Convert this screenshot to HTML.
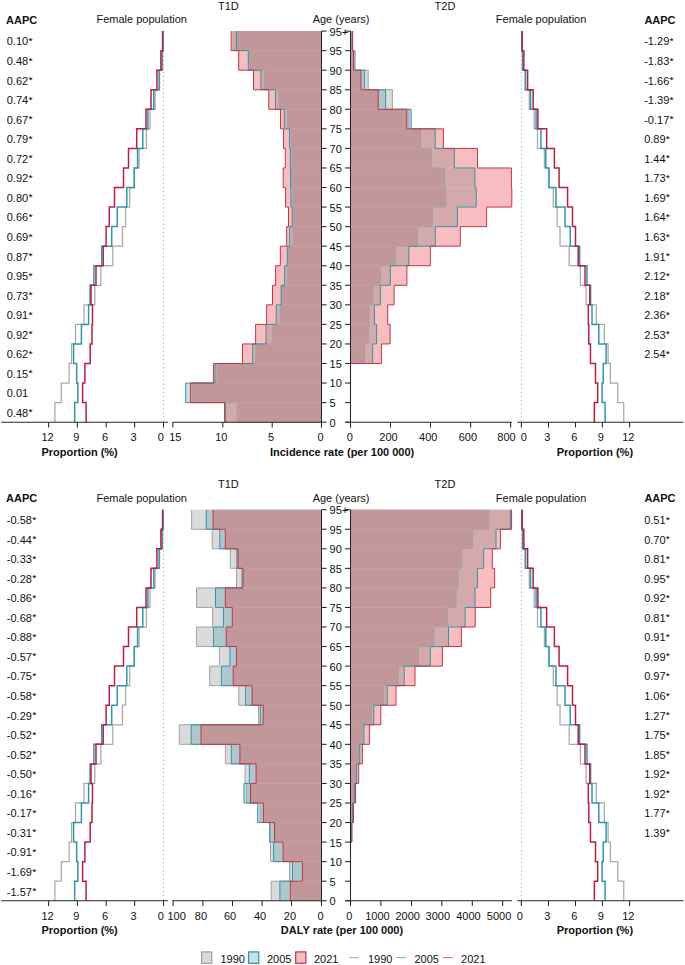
<!DOCTYPE html>
<html><head><meta charset="utf-8"><style>
html,body{margin:0;padding:0;background:#fff;width:685px;height:965px;overflow:hidden}
svg{display:block}
text{font-family:"Liberation Sans",sans-serif;fill:#111}
</style></head><body>
<svg width="685" height="965" viewBox="0 0 685 965">
<rect width="685" height="965" fill="#fff"/>
<text x="6" y="23.8" font-weight="bold" font-size="11.0">AAPC</text>
<text x="141.7" y="22.9" text-anchor="middle" font-size="11.0">Female population</text>
<text x="228.4" y="9.5" text-anchor="middle" font-size="11.0">T1D</text>
<text x="341.1" y="22.9" text-anchor="middle" font-size="11.0">Age (years)</text>
<text x="445" y="9.5" text-anchor="middle" font-size="11.0">T2D</text>
<text x="541.1" y="22.9" text-anchor="middle" font-size="11.0">Female population</text>
<text x="644.4" y="23.8" font-weight="bold" font-size="11.0">AAPC</text>
<text x="6.8" y="45.47" font-size="11.0">0.10<tspan font-size="9.4" dx="0.5" dy="-1.5" stroke="#111" stroke-width="0.12">*</tspan></text>
<text x="644.2" y="45.47" font-size="11.0">-1.29<tspan font-size="9.4" dx="0.5" dy="-1.5" stroke="#111" stroke-width="0.12">*</tspan></text>
<text x="6.8" y="65.02" font-size="11.0">0.48<tspan font-size="9.4" dx="0.5" dy="-1.5" stroke="#111" stroke-width="0.12">*</tspan></text>
<text x="644.2" y="65.02" font-size="11.0">-1.83<tspan font-size="9.4" dx="0.5" dy="-1.5" stroke="#111" stroke-width="0.12">*</tspan></text>
<text x="6.8" y="84.57" font-size="11.0">0.62<tspan font-size="9.4" dx="0.5" dy="-1.5" stroke="#111" stroke-width="0.12">*</tspan></text>
<text x="644.2" y="84.57" font-size="11.0">-1.66<tspan font-size="9.4" dx="0.5" dy="-1.5" stroke="#111" stroke-width="0.12">*</tspan></text>
<text x="6.8" y="104.13" font-size="11.0">0.74<tspan font-size="9.4" dx="0.5" dy="-1.5" stroke="#111" stroke-width="0.12">*</tspan></text>
<text x="644.2" y="104.13" font-size="11.0">-1.39<tspan font-size="9.4" dx="0.5" dy="-1.5" stroke="#111" stroke-width="0.12">*</tspan></text>
<text x="6.8" y="123.68" font-size="11.0">0.67<tspan font-size="9.4" dx="0.5" dy="-1.5" stroke="#111" stroke-width="0.12">*</tspan></text>
<text x="644.2" y="123.68" font-size="11.0">-0.17<tspan font-size="9.4" dx="0.5" dy="-1.5" stroke="#111" stroke-width="0.12">*</tspan></text>
<text x="6.8" y="143.23" font-size="11.0">0.79<tspan font-size="9.4" dx="0.5" dy="-1.5" stroke="#111" stroke-width="0.12">*</tspan></text>
<text x="644.2" y="143.23" font-size="11.0">0.89<tspan font-size="9.4" dx="0.5" dy="-1.5" stroke="#111" stroke-width="0.12">*</tspan></text>
<text x="6.8" y="162.78" font-size="11.0">0.72<tspan font-size="9.4" dx="0.5" dy="-1.5" stroke="#111" stroke-width="0.12">*</tspan></text>
<text x="644.2" y="162.78" font-size="11.0">1.44<tspan font-size="9.4" dx="0.5" dy="-1.5" stroke="#111" stroke-width="0.12">*</tspan></text>
<text x="6.8" y="182.34" font-size="11.0">0.92<tspan font-size="9.4" dx="0.5" dy="-1.5" stroke="#111" stroke-width="0.12">*</tspan></text>
<text x="644.2" y="182.34" font-size="11.0">1.73<tspan font-size="9.4" dx="0.5" dy="-1.5" stroke="#111" stroke-width="0.12">*</tspan></text>
<text x="6.8" y="201.89" font-size="11.0">0.80<tspan font-size="9.4" dx="0.5" dy="-1.5" stroke="#111" stroke-width="0.12">*</tspan></text>
<text x="644.2" y="201.89" font-size="11.0">1.69<tspan font-size="9.4" dx="0.5" dy="-1.5" stroke="#111" stroke-width="0.12">*</tspan></text>
<text x="6.8" y="221.44" font-size="11.0">0.66<tspan font-size="9.4" dx="0.5" dy="-1.5" stroke="#111" stroke-width="0.12">*</tspan></text>
<text x="644.2" y="221.44" font-size="11.0">1.64<tspan font-size="9.4" dx="0.5" dy="-1.5" stroke="#111" stroke-width="0.12">*</tspan></text>
<text x="6.8" y="241" font-size="11.0">0.69<tspan font-size="9.4" dx="0.5" dy="-1.5" stroke="#111" stroke-width="0.12">*</tspan></text>
<text x="644.2" y="241" font-size="11.0">1.63<tspan font-size="9.4" dx="0.5" dy="-1.5" stroke="#111" stroke-width="0.12">*</tspan></text>
<text x="6.8" y="260.55" font-size="11.0">0.87<tspan font-size="9.4" dx="0.5" dy="-1.5" stroke="#111" stroke-width="0.12">*</tspan></text>
<text x="644.2" y="260.55" font-size="11.0">1.91<tspan font-size="9.4" dx="0.5" dy="-1.5" stroke="#111" stroke-width="0.12">*</tspan></text>
<text x="6.8" y="280.1" font-size="11.0">0.95<tspan font-size="9.4" dx="0.5" dy="-1.5" stroke="#111" stroke-width="0.12">*</tspan></text>
<text x="644.2" y="280.1" font-size="11.0">2.12<tspan font-size="9.4" dx="0.5" dy="-1.5" stroke="#111" stroke-width="0.12">*</tspan></text>
<text x="6.8" y="299.66" font-size="11.0">0.73<tspan font-size="9.4" dx="0.5" dy="-1.5" stroke="#111" stroke-width="0.12">*</tspan></text>
<text x="644.2" y="299.66" font-size="11.0">2.18<tspan font-size="9.4" dx="0.5" dy="-1.5" stroke="#111" stroke-width="0.12">*</tspan></text>
<text x="6.8" y="319.21" font-size="11.0">0.91<tspan font-size="9.4" dx="0.5" dy="-1.5" stroke="#111" stroke-width="0.12">*</tspan></text>
<text x="644.2" y="319.21" font-size="11.0">2.36<tspan font-size="9.4" dx="0.5" dy="-1.5" stroke="#111" stroke-width="0.12">*</tspan></text>
<text x="6.8" y="338.76" font-size="11.0">0.92<tspan font-size="9.4" dx="0.5" dy="-1.5" stroke="#111" stroke-width="0.12">*</tspan></text>
<text x="644.2" y="338.76" font-size="11.0">2.53<tspan font-size="9.4" dx="0.5" dy="-1.5" stroke="#111" stroke-width="0.12">*</tspan></text>
<text x="6.8" y="358.31" font-size="11.0">0.62<tspan font-size="9.4" dx="0.5" dy="-1.5" stroke="#111" stroke-width="0.12">*</tspan></text>
<text x="644.2" y="358.31" font-size="11.0">2.54<tspan font-size="9.4" dx="0.5" dy="-1.5" stroke="#111" stroke-width="0.12">*</tspan></text>
<text x="6.8" y="377.87" font-size="11.0">0.15<tspan font-size="9.4" dx="0.5" dy="-1.5" stroke="#111" stroke-width="0.12">*</tspan></text>
<text x="6.8" y="397.42" font-size="11.0">0.01</text>
<text x="6.8" y="416.97" font-size="11.0">0.48<tspan font-size="9.4" dx="0.5" dy="-1.5" stroke="#111" stroke-width="0.12">*</tspan></text>
<path fill="#c6e3e9" d="M185.7 383.04h135.8V402.6H185.7Z"/>
<path fill="#f8bdbf" d="M231.1 31.09h90.4V50.64H231.1ZM238.7 50.64h82.8V70.2H238.7ZM253.5 70.2h68V89.75H253.5ZM268.8 89.75h52.7V109.3H268.8ZM280.5 109.3h41V128.85H280.5ZM283.5 128.85h38V148.41H283.5ZM285.3 148.41h36.2V167.96H285.3ZM283.2 167.96h38.3V187.51H283.2ZM285.6 187.51h35.9V207.07H285.6ZM288.5 207.07h33V226.62H288.5ZM286.7 226.62h34.8V246.17H286.7ZM280.3 246.17h41.2V265.73H280.3ZM275.6 265.73h45.9V285.28H275.6ZM272.5 285.28h49V304.83H272.5ZM266.6 304.83h54.9V324.38H266.6ZM255.6 324.38h65.9V343.94H255.6ZM242.5 343.94h79V363.49H242.5ZM213.4 363.49h108.1V383.04H213.4ZM224.6 402.6h96.9V422.15H224.6Z"/>
<path fill="#d4a9ab" d="M248.3 50.64h73.2V70.2H248.3ZM260.9 70.2h60.6V89.75H260.9ZM275.5 89.75h46V109.3H275.5ZM284.3 109.3h37.2V128.85H284.3ZM289.5 128.85h32V148.41H289.5ZM290.3 148.41h31.2V167.96H290.3ZM290.5 167.96h31V187.51H290.5ZM290.9 187.51h30.6V207.07H290.9ZM292.3 207.07h29.2V226.62H292.3ZM289.6 226.62h31.9V246.17H289.6ZM287.3 246.17h34.2V265.73H287.3ZM284.6 265.73h36.9V285.28H284.6ZM281.1 285.28h40.4V304.83H281.1ZM276.2 304.83h45.3V324.38H276.2ZM266 324.38h55.5V343.94H266ZM252.7 343.94h68.8V363.49H252.7ZM215 363.49h106.5V383.04H215ZM190.4 383.04h131.1V402.6H190.4ZM225.4 402.6h96.1V422.15H225.4Z"/>
<path fill="#d6a9ab" d="M233.1 31.09h88.4V50.64H233.1Z"/>
<path fill="#c2979a" d="M236.4 31.09h85.1V50.64H236.4ZM249.8 50.64h71.7V70.2H249.8ZM264.4 70.2h57.1V89.75H264.4ZM279 89.75h42.5V109.3H279ZM287.5 109.3h34V128.85H287.5ZM291.2 128.85h30.3V148.41H291.2ZM292.1 148.41h29.4V167.96H292.1ZM291.5 167.96h30V187.51H291.5ZM293 187.51h28.5V207.07H293ZM293.9 207.07h27.6V226.62H293.9ZM293.1 226.62h28.4V246.17H293.1ZM288.5 246.17h33V265.73H288.5ZM287.3 265.73h34.2V285.28H287.3ZM282 285.28h39.5V304.83H282ZM280.3 304.83h41.2V324.38H280.3ZM272.4 324.38h49.1V343.94H272.4ZM255.9 343.94h65.6V363.49H255.9ZM217.2 363.49h104.3V383.04H217.2ZM192 383.04h129.5V402.6H192ZM237.3 402.6h84.2V422.15H237.3Z"/>
<path d="M321.5 50.64H238.7M321.5 70.2H253.5M321.5 89.75H268.8M321.5 109.3H280.5M321.5 128.85H283.5M321.5 148.41H285.3M321.5 167.96H285.3M321.5 187.51H285.6M321.5 207.07H288.5M321.5 226.62H288.5M321.5 246.17H286.7M321.5 265.73H280.3M321.5 285.28H275.6M321.5 304.83H272.5M321.5 324.38H266.6M321.5 343.94H255.6M321.5 363.49H242.5M321.5 383.04H213.4M321.5 402.6H224.6" stroke="#fff" stroke-opacity="0.12" stroke-width="0.8" fill="none"/>
<path d="M233.1 31.09 L233.1 50.64 L249.8 50.64 L249.8 70.2 L264.4 70.2 L264.4 89.75 L279 89.75 L279 109.3 L287.5 109.3 L287.5 128.85 L291.2 128.85 L291.2 148.41 L292.1 148.41 L292.1 167.96 L291.5 167.96 L291.5 187.51 L293 187.51 L293 207.07 L293.9 207.07 L293.9 226.62 L293.1 226.62 L293.1 246.17 L288.5 246.17 L288.5 265.73 L287.3 265.73 L287.3 285.28 L282 285.28 L282 304.83 L280.3 304.83 L280.3 324.38 L272.4 324.38 L272.4 343.94 L255.9 343.94 L255.9 363.49 L217.2 363.49 L217.2 383.04 L192 383.04 L192 402.6 L237.3 402.6 L237.3 422.15" fill="none" stroke="#a3a3a3" stroke-width="1.0"/>
<path d="M236.4 31.09 L236.4 50.64 L248.3 50.64 L248.3 70.2 L260.9 70.2 L260.9 89.75 L275.5 89.75 L275.5 109.3 L284.3 109.3 L284.3 128.85 L289.5 128.85 L289.5 148.41 L290.3 148.41 L290.3 167.96 L290.5 167.96 L290.5 187.51 L290.9 187.51 L290.9 207.07 L292.3 207.07 L292.3 226.62 L289.6 226.62 L289.6 246.17 L287.3 246.17 L287.3 265.73 L284.6 265.73 L284.6 285.28 L281.1 285.28 L281.1 304.83 L276.2 304.83 L276.2 324.38 L266 324.38 L266 343.94 L252.7 343.94 L252.7 363.49 L215 363.49 L215 383.04 L185.7 383.04 L185.7 402.6 L225.4 402.6 L225.4 422.15" fill="none" stroke="#3593aa" stroke-width="1.0"/>
<path d="M231.1 31.09 L231.1 50.64 L238.7 50.64 L238.7 70.2 L253.5 70.2 L253.5 89.75 L268.8 89.75 L268.8 109.3 L280.5 109.3 L280.5 128.85 L283.5 128.85 L283.5 148.41 L285.3 148.41 L285.3 167.96 L283.2 167.96 L283.2 187.51 L285.6 187.51 L285.6 207.07 L288.5 207.07 L288.5 226.62 L286.7 226.62 L286.7 246.17 L280.3 246.17 L280.3 265.73 L275.6 265.73 L275.6 285.28 L272.5 285.28 L272.5 304.83 L266.6 304.83 L266.6 324.38 L255.6 324.38 L255.6 343.94 L242.5 343.94 L242.5 363.49 L213.4 363.49 L213.4 383.04 L190.4 383.04 L190.4 402.6 L224.6 402.6 L224.6 422.15" fill="none" stroke="#c5344b" stroke-width="1.0"/>
<path fill="#c6e3e9" d="M350.5 109.3h60.6V128.85H350.5Z"/>
<path fill="#dadada" d="M350.5 50.64h4.7V70.2H350.5ZM350.5 70.2h17.7V89.75H350.5ZM350.5 89.75h41.9V109.3H350.5Z"/>
<path fill="#f8bdbf" d="M350.5 31.09h2.1V50.64H350.5ZM350.5 128.85h92.9V148.41H350.5ZM350.5 148.41h127V167.96H350.5ZM350.5 167.96h160.9V187.51H350.5ZM350.5 187.51h161.3V207.07H350.5ZM350.5 207.07h136.1V226.62H350.5ZM350.5 226.62h109.8V246.17H350.5ZM350.5 246.17h79.8V265.73H350.5ZM350.5 265.73h56.4V285.28H350.5ZM350.5 285.28h43.6V304.83H350.5ZM350.5 304.83h37.2V324.38H350.5ZM350.5 324.38h39.6V343.94H350.5ZM350.5 343.94h30.9V363.49H350.5Z"/>
<path fill="#adc8cc" d="M350.5 50.64h3.4V70.2H350.5ZM350.5 70.2h14.1V89.75H350.5ZM350.5 89.75h35.1V109.3H350.5ZM350.5 109.3h58.4V128.85H350.5Z"/>
<path fill="#d4a9ab" d="M350.5 31.09h1.8V50.64H350.5ZM350.5 128.85h84.7V148.41H350.5ZM350.5 148.41h103.8V167.96H350.5ZM350.5 167.96h124.4V187.51H350.5ZM350.5 187.51h125.7V207.07H350.5ZM350.5 207.07h106.9V226.62H350.5ZM350.5 226.62h84.8V246.17H350.5ZM350.5 246.17h58.3V265.73H350.5ZM350.5 265.73h39.9V285.28H350.5ZM350.5 285.28h29.9V304.83H350.5ZM350.5 304.83h23.9V324.38H350.5ZM350.5 324.38h26.1V343.94H350.5ZM350.5 343.94h22.1V363.49H350.5Z"/>
<path fill="#c2979a" d="M350.5 31.09h1.7V50.64H350.5ZM350.5 50.64h3V70.2H350.5ZM350.5 70.2h10.5V89.75H350.5ZM350.5 89.75h27.7V109.3H350.5ZM350.5 109.3h56.3V128.85H350.5ZM350.5 128.85h70V148.41H350.5ZM350.5 148.41h81V167.96H350.5ZM350.5 167.96h94.1V187.51H350.5ZM350.5 187.51h95.2V207.07H350.5ZM350.5 207.07h81.9V226.62H350.5ZM350.5 226.62h67.1V246.17H350.5ZM350.5 246.17h45V265.73H350.5ZM350.5 265.73h29.9V285.28H350.5ZM350.5 285.28h22.4V304.83H350.5ZM350.5 304.83h18.5V324.38H350.5ZM350.5 324.38h18.2V343.94H350.5ZM350.5 343.94h14.1V363.49H350.5Z"/>
<path d="M350.5 50.64H352.6M350.5 70.2H355.2M350.5 89.75H368.2M350.5 109.3H392.4M350.5 128.85H411.1M350.5 148.41H443.4M350.5 167.96H477.5M350.5 187.51H511.4M350.5 207.07H486.6M350.5 226.62H460.3M350.5 246.17H430.3M350.5 265.73H406.9M350.5 285.28H394.1M350.5 304.83H387.7M350.5 324.38H387.7M350.5 343.94H381.4" stroke="#fff" stroke-opacity="0.12" stroke-width="0.8" fill="none"/>
<path d="M352.2 31.09 L352.2 50.64 L355.2 50.64 L355.2 70.2 L368.2 70.2 L368.2 89.75 L392.4 89.75 L392.4 109.3 L408.9 109.3 L408.9 128.85 L420.5 128.85 L420.5 148.41 L431.5 148.41 L431.5 167.96 L444.6 167.96 L444.6 187.51 L445.7 187.51 L445.7 207.07 L432.4 207.07 L432.4 226.62 L417.6 226.62 L417.6 246.17 L395.5 246.17 L395.5 265.73 L380.4 265.73 L380.4 285.28 L372.9 285.28 L372.9 304.83 L369 304.83 L369 324.38 L368.7 324.38 L368.7 343.94 L364.6 343.94 L364.6 363.49 L350.5 363.49 L350.5 383.04 L350.5 383.04 L350.5 402.6 L350.5 402.6 L350.5 422.15" fill="none" stroke="#a3a3a3" stroke-width="1.0"/>
<path d="M352.3 31.09 L352.3 50.64 L353.9 50.64 L353.9 70.2 L364.6 70.2 L364.6 89.75 L385.6 89.75 L385.6 109.3 L411.1 109.3 L411.1 128.85 L435.2 128.85 L435.2 148.41 L454.3 148.41 L454.3 167.96 L474.9 167.96 L474.9 187.51 L476.2 187.51 L476.2 207.07 L457.4 207.07 L457.4 226.62 L435.3 226.62 L435.3 246.17 L408.8 246.17 L408.8 265.73 L390.4 265.73 L390.4 285.28 L380.4 285.28 L380.4 304.83 L374.4 304.83 L374.4 324.38 L376.6 324.38 L376.6 343.94 L372.6 343.94 L372.6 363.49 L350.5 363.49 L350.5 383.04 L350.5 383.04 L350.5 402.6 L350.5 402.6 L350.5 422.15" fill="none" stroke="#3593aa" stroke-width="1.0"/>
<path d="M352.6 31.09 L352.6 50.64 L353.5 50.64 L353.5 70.2 L361 70.2 L361 89.75 L378.2 89.75 L378.2 109.3 L406.8 109.3 L406.8 128.85 L443.4 128.85 L443.4 148.41 L477.5 148.41 L477.5 167.96 L511.4 167.96 L511.4 187.51 L511.8 187.51 L511.8 207.07 L486.6 207.07 L486.6 226.62 L460.3 226.62 L460.3 246.17 L430.3 246.17 L430.3 265.73 L406.9 265.73 L406.9 285.28 L394.1 285.28 L394.1 304.83 L387.7 304.83 L387.7 324.38 L390.1 324.38 L390.1 343.94 L381.4 343.94 L381.4 363.49 L350.5 363.49 L350.5 383.04 L350.5 383.04 L350.5 402.6 L350.5 402.6 L350.5 422.15" fill="none" stroke="#c5344b" stroke-width="1.0"/>
<line x1="163.5" y1="31.09" x2="163.5" y2="422.15" stroke="#8a8a8a" stroke-width="0.9" stroke-dasharray="1 3.1"/>
<line x1="521.4" y1="31.09" x2="521.4" y2="422.15" stroke="#8a8a8a" stroke-width="0.9" stroke-dasharray="1 3.1"/>
<path d="M163.2 31.09 L163.2 50.64 L162.5 50.64 L162.5 70.2 L159.6 70.2 L159.6 89.75 L155.1 89.75 L155.1 109.3 L150 109.3 L150 128.85 L146.4 128.85 L146.4 148.41 L139.1 148.41 L139.1 167.96 L134.4 167.96 L134.4 187.51 L129.7 187.51 L129.7 207.07 L125.6 207.07 L125.6 226.62 L122.5 226.62 L122.5 246.17 L112.8 246.17 L112.8 265.73 L100.9 265.73 L100.9 285.28 L94.8 285.28 L94.8 304.83 L84 304.83 L84 324.38 L75.5 324.38 L75.5 343.94 L71.5 343.94 L71.5 363.49 L69.1 363.49 L69.1 383.04 L61.3 383.04 L61.3 402.6 L54.9 402.6 L54.9 422.15" fill="none" stroke="#a9a9a9" stroke-width="1.25"/>
<path d="M163 31.09 L163 50.64 L162.1 50.64 L162.1 70.2 L159.1 70.2 L159.1 89.75 L153.8 89.75 L153.8 109.3 L147.9 109.3 L147.9 128.85 L142.8 128.85 L142.8 148.41 L137.6 148.41 L137.6 167.96 L134.2 167.96 L134.2 187.51 L126.8 187.51 L126.8 207.07 L117.2 207.07 L117.2 226.62 L111.7 226.62 L111.7 246.17 L101.7 246.17 L101.7 265.73 L93.9 265.73 L93.9 285.28 L90.1 285.28 L90.1 304.83 L88.6 304.83 L88.6 324.38 L81.4 324.38 L81.4 343.94 L73.6 343.94 L73.6 363.49 L76.7 363.49 L76.7 383.04 L77.9 383.04 L77.9 402.6 L74.7 402.6 L74.7 422.15" fill="none" stroke="#2b98b2" stroke-width="1.5"/>
<path d="M162.6 31.09 L162.6 50.64 L160.9 50.64 L160.9 70.2 L156.9 70.2 L156.9 89.75 L151 89.75 L151 109.3 L146 109.3 L146 128.85 L136.7 128.85 L136.7 148.41 L128.5 148.41 L128.5 167.96 L123.5 167.96 L123.5 187.51 L114.5 187.51 L114.5 207.07 L109.3 207.07 L109.3 226.62 L106.1 226.62 L106.1 246.17 L103.2 246.17 L103.2 265.73 L96 265.73 L96 285.28 L91 285.28 L91 304.83 L92.5 304.83 L92.5 324.38 L92 324.38 L92 343.94 L90.2 343.94 L90.2 363.49 L84.9 363.49 L84.9 383.04 L82.6 383.04 L82.6 402.6 L86.1 402.6 L86.1 422.15" fill="none" stroke="#bc1e41" stroke-width="1.5"/>
<path d="M521.68 31.09 L521.68 50.64 L522.34 50.64 L522.34 70.2 L525.08 70.2 L525.08 89.75 L529.32 89.75 L529.32 109.3 L534.13 109.3 L534.13 128.85 L537.52 128.85 L537.52 148.41 L544.4 148.41 L544.4 167.96 L548.83 167.96 L548.83 187.51 L553.26 187.51 L553.26 207.07 L557.12 207.07 L557.12 226.62 L560.04 226.62 L560.04 246.17 L569.19 246.17 L569.19 265.73 L580.4 265.73 L580.4 285.28 L586.15 285.28 L586.15 304.83 L596.33 304.83 L596.33 324.38 L604.34 324.38 L604.34 343.94 L608.11 343.94 L608.11 363.49 L610.37 363.49 L610.37 383.04 L617.72 383.04 L617.72 402.6 L623.76 402.6 L623.76 422.15" fill="none" stroke="#a9a9a9" stroke-width="1.25"/>
<path d="M521.87 31.09 L521.87 50.64 L522.72 50.64 L522.72 70.2 L525.55 70.2 L525.55 89.75 L530.55 89.75 L530.55 109.3 L536.1 109.3 L536.1 128.85 L540.91 128.85 L540.91 148.41 L545.81 148.41 L545.81 167.96 L549.02 167.96 L549.02 187.51 L555.99 187.51 L555.99 207.07 L565.04 207.07 L565.04 226.62 L570.23 226.62 L570.23 246.17 L579.65 246.17 L579.65 265.73 L587 265.73 L587 285.28 L590.58 285.28 L590.58 304.83 L592 304.83 L592 324.38 L598.78 324.38 L598.78 343.94 L606.13 343.94 L606.13 363.49 L603.21 363.49 L603.21 383.04 L602.08 383.04 L602.08 402.6 L605.1 402.6 L605.1 422.15" fill="none" stroke="#2b98b2" stroke-width="1.5"/>
<path d="M522.25 31.09 L522.25 50.64 L523.85 50.64 L523.85 70.2 L527.62 70.2 L527.62 89.75 L533.18 89.75 L533.18 109.3 L537.9 109.3 L537.9 128.85 L546.66 128.85 L546.66 148.41 L554.39 148.41 L554.39 167.96 L559.1 167.96 L559.1 187.51 L567.58 187.51 L567.58 207.07 L572.49 207.07 L572.49 226.62 L575.5 226.62 L575.5 246.17 L578.24 246.17 L578.24 265.73 L585.02 265.73 L585.02 285.28 L589.74 285.28 L589.74 304.83 L588.32 304.83 L588.32 324.38 L588.79 324.38 L588.79 343.94 L590.48 343.94 L590.48 363.49 L595.48 363.49 L595.48 383.04 L597.65 383.04 L597.65 402.6 L594.35 402.6 L594.35 422.15" fill="none" stroke="#bc1e41" stroke-width="1.5"/>
<g stroke="#262626" stroke-width="1.05"><line x1="1.3" y1="422.15" x2="167.9" y2="422.15"/><line x1="172.3" y1="422.15" x2="321.5" y2="422.15"/><line x1="345.5" y1="422.15" x2="511.9" y2="422.15"/><line x1="517.2" y1="422.15" x2="683.6" y2="422.15"/><line x1="321.5" y1="31.09" x2="321.5" y2="427.45"/><line x1="350.5" y1="31.09" x2="350.5" y2="427.45"/><line x1="321.5" y1="422.15" x2="326.6" y2="422.15"/><line x1="345" y1="422.15" x2="350.5" y2="422.15"/><line x1="321.5" y1="402.6" x2="326.6" y2="402.6"/><line x1="345" y1="402.6" x2="350.5" y2="402.6"/><line x1="321.5" y1="383.04" x2="326.6" y2="383.04"/><line x1="345" y1="383.04" x2="350.5" y2="383.04"/><line x1="321.5" y1="363.49" x2="326.6" y2="363.49"/><line x1="345" y1="363.49" x2="350.5" y2="363.49"/><line x1="321.5" y1="343.94" x2="326.6" y2="343.94"/><line x1="345" y1="343.94" x2="350.5" y2="343.94"/><line x1="321.5" y1="324.38" x2="326.6" y2="324.38"/><line x1="345" y1="324.38" x2="350.5" y2="324.38"/><line x1="321.5" y1="304.83" x2="326.6" y2="304.83"/><line x1="345" y1="304.83" x2="350.5" y2="304.83"/><line x1="321.5" y1="285.28" x2="326.6" y2="285.28"/><line x1="345" y1="285.28" x2="350.5" y2="285.28"/><line x1="321.5" y1="265.73" x2="326.6" y2="265.73"/><line x1="345" y1="265.73" x2="350.5" y2="265.73"/><line x1="321.5" y1="246.17" x2="326.6" y2="246.17"/><line x1="345" y1="246.17" x2="350.5" y2="246.17"/><line x1="321.5" y1="226.62" x2="326.6" y2="226.62"/><line x1="345" y1="226.62" x2="350.5" y2="226.62"/><line x1="321.5" y1="207.07" x2="326.6" y2="207.07"/><line x1="345" y1="207.07" x2="350.5" y2="207.07"/><line x1="321.5" y1="187.51" x2="326.6" y2="187.51"/><line x1="345" y1="187.51" x2="350.5" y2="187.51"/><line x1="321.5" y1="167.96" x2="326.6" y2="167.96"/><line x1="345" y1="167.96" x2="350.5" y2="167.96"/><line x1="321.5" y1="148.41" x2="326.6" y2="148.41"/><line x1="345" y1="148.41" x2="350.5" y2="148.41"/><line x1="321.5" y1="128.85" x2="326.6" y2="128.85"/><line x1="345" y1="128.85" x2="350.5" y2="128.85"/><line x1="321.5" y1="109.3" x2="326.6" y2="109.3"/><line x1="345" y1="109.3" x2="350.5" y2="109.3"/><line x1="321.5" y1="89.75" x2="326.6" y2="89.75"/><line x1="345" y1="89.75" x2="350.5" y2="89.75"/><line x1="321.5" y1="70.2" x2="326.6" y2="70.2"/><line x1="345" y1="70.2" x2="350.5" y2="70.2"/><line x1="321.5" y1="50.64" x2="326.6" y2="50.64"/><line x1="345" y1="50.64" x2="350.5" y2="50.64"/><line x1="321.5" y1="31.09" x2="326.6" y2="31.09"/><line x1="345" y1="31.09" x2="350.5" y2="31.09"/><line x1="48.6" y1="422.15" x2="48.6" y2="427.45"/><line x1="77.4" y1="422.15" x2="77.4" y2="427.45"/><line x1="106.2" y1="422.15" x2="106.2" y2="427.45"/><line x1="134.6" y1="422.15" x2="134.6" y2="427.45"/><line x1="163.5" y1="422.15" x2="163.5" y2="427.45"/><line x1="521.4" y1="422.15" x2="521.4" y2="427.45"/><line x1="548.5" y1="422.15" x2="548.5" y2="427.45"/><line x1="575.5" y1="422.15" x2="575.5" y2="427.45"/><line x1="602.4" y1="422.15" x2="602.4" y2="427.45"/><line x1="629.6" y1="422.15" x2="629.6" y2="427.45"/><line x1="172.9" y1="422.15" x2="172.9" y2="427.45"/><line x1="222.8" y1="422.15" x2="222.8" y2="427.45"/><line x1="272.2" y1="422.15" x2="272.2" y2="427.45"/><line x1="321.5" y1="422.15" x2="321.5" y2="427.45"/><line x1="350.5" y1="422.15" x2="350.5" y2="427.45"/><line x1="390.5" y1="422.15" x2="390.5" y2="427.45"/><line x1="430.5" y1="422.15" x2="430.5" y2="427.45"/><line x1="470.6" y1="422.15" x2="470.6" y2="427.45"/><line x1="510.6" y1="422.15" x2="510.6" y2="427.45"/></g>
<text x="329.6" y="426.6" font-size="11.0">0</text>
<text x="329.6" y="407.05" font-size="11.0">5</text>
<text x="329.6" y="387.49" font-size="11.0">10</text>
<text x="329.6" y="367.94" font-size="11.0">15</text>
<text x="329.6" y="348.39" font-size="11.0">20</text>
<text x="329.6" y="328.83" font-size="11.0">25</text>
<text x="329.6" y="309.28" font-size="11.0">30</text>
<text x="329.6" y="289.73" font-size="11.0">35</text>
<text x="329.6" y="270.18" font-size="11.0">40</text>
<text x="329.6" y="250.62" font-size="11.0">45</text>
<text x="329.6" y="231.07" font-size="11.0">50</text>
<text x="329.6" y="211.52" font-size="11.0">55</text>
<text x="329.6" y="191.96" font-size="11.0">60</text>
<text x="329.6" y="172.41" font-size="11.0">65</text>
<text x="329.6" y="152.86" font-size="11.0">70</text>
<text x="329.6" y="133.3" font-size="11.0">75</text>
<text x="329.6" y="113.75" font-size="11.0">80</text>
<text x="329.6" y="94.2" font-size="11.0">85</text>
<text x="329.6" y="74.65" font-size="11.0">90</text>
<text x="329.6" y="55.09" font-size="11.0">95</text>
<text x="329.6" y="35.54" font-size="11.0">95+</text>
<text x="47.5" y="441" text-anchor="middle" font-size="11.0">12</text>
<text x="76.4" y="441" text-anchor="middle" font-size="11.0">9</text>
<text x="105.1" y="441" text-anchor="middle" font-size="11.0">6</text>
<text x="133.6" y="441" text-anchor="middle" font-size="11.0">3</text>
<text x="160.7" y="441" text-anchor="middle" font-size="11.0">0</text>
<text x="523.8" y="441" text-anchor="middle" font-size="11.0">0</text>
<text x="547.3" y="441" text-anchor="middle" font-size="11.0">3</text>
<text x="574.3" y="441" text-anchor="middle" font-size="11.0">6</text>
<text x="600.7" y="441" text-anchor="middle" font-size="11.0">9</text>
<text x="628.3" y="441" text-anchor="middle" font-size="11.0">12</text>
<text x="175.3" y="441" text-anchor="middle" font-size="11.0">15</text>
<text x="221.3" y="441" text-anchor="middle" font-size="11.0">10</text>
<text x="271" y="441" text-anchor="middle" font-size="11.0">5</text>
<text x="320.5" y="441" text-anchor="middle" font-size="11.0">0</text>
<text x="349.7" y="441" text-anchor="middle" font-size="11.0">0</text>
<text x="388.5" y="441" text-anchor="middle" font-size="11.0">200</text>
<text x="428.2" y="441" text-anchor="middle" font-size="11.0">400</text>
<text x="467.9" y="441" text-anchor="middle" font-size="11.0">600</text>
<text x="506.5" y="441" text-anchor="middle" font-size="11.0">800</text>
<text x="41.4" y="455.6" font-weight="bold" font-size="11.0">Proportion (%)</text>
<text x="342.1" y="455.6" text-anchor="middle" font-weight="bold" font-size="11.0">Incidence rate (per 100 000)</text>
<text x="556.7" y="455.6" font-weight="bold" font-size="11.0">Proportion (%)</text>
<text x="6" y="502.4" font-weight="bold" font-size="11.0">AAPC</text>
<text x="141.7" y="501.5" text-anchor="middle" font-size="11.0">Female population</text>
<text x="228.4" y="488.1" text-anchor="middle" font-size="11.0">T1D</text>
<text x="341.1" y="501.5" text-anchor="middle" font-size="11.0">Age (years)</text>
<text x="445" y="488.1" text-anchor="middle" font-size="11.0">T2D</text>
<text x="541.1" y="501.5" text-anchor="middle" font-size="11.0">Female population</text>
<text x="644.4" y="502.4" font-weight="bold" font-size="11.0">AAPC</text>
<text x="6.8" y="524.07" font-size="11.0">-0.58<tspan font-size="9.4" dx="0.5" dy="-1.5" stroke="#111" stroke-width="0.12">*</tspan></text>
<text x="644.2" y="524.07" font-size="11.0">0.51<tspan font-size="9.4" dx="0.5" dy="-1.5" stroke="#111" stroke-width="0.12">*</tspan></text>
<text x="6.8" y="543.62" font-size="11.0">-0.44<tspan font-size="9.4" dx="0.5" dy="-1.5" stroke="#111" stroke-width="0.12">*</tspan></text>
<text x="644.2" y="543.62" font-size="11.0">0.70<tspan font-size="9.4" dx="0.5" dy="-1.5" stroke="#111" stroke-width="0.12">*</tspan></text>
<text x="6.8" y="563.17" font-size="11.0">-0.33<tspan font-size="9.4" dx="0.5" dy="-1.5" stroke="#111" stroke-width="0.12">*</tspan></text>
<text x="644.2" y="563.17" font-size="11.0">0.81<tspan font-size="9.4" dx="0.5" dy="-1.5" stroke="#111" stroke-width="0.12">*</tspan></text>
<text x="6.8" y="582.73" font-size="11.0">-0.28<tspan font-size="9.4" dx="0.5" dy="-1.5" stroke="#111" stroke-width="0.12">*</tspan></text>
<text x="644.2" y="582.73" font-size="11.0">0.95<tspan font-size="9.4" dx="0.5" dy="-1.5" stroke="#111" stroke-width="0.12">*</tspan></text>
<text x="6.8" y="602.28" font-size="11.0">-0.86<tspan font-size="9.4" dx="0.5" dy="-1.5" stroke="#111" stroke-width="0.12">*</tspan></text>
<text x="644.2" y="602.28" font-size="11.0">0.92<tspan font-size="9.4" dx="0.5" dy="-1.5" stroke="#111" stroke-width="0.12">*</tspan></text>
<text x="6.8" y="621.83" font-size="11.0">-0.68<tspan font-size="9.4" dx="0.5" dy="-1.5" stroke="#111" stroke-width="0.12">*</tspan></text>
<text x="644.2" y="621.83" font-size="11.0">0.81<tspan font-size="9.4" dx="0.5" dy="-1.5" stroke="#111" stroke-width="0.12">*</tspan></text>
<text x="6.8" y="641.38" font-size="11.0">-0.88<tspan font-size="9.4" dx="0.5" dy="-1.5" stroke="#111" stroke-width="0.12">*</tspan></text>
<text x="644.2" y="641.38" font-size="11.0">0.91<tspan font-size="9.4" dx="0.5" dy="-1.5" stroke="#111" stroke-width="0.12">*</tspan></text>
<text x="6.8" y="660.94" font-size="11.0">-0.57<tspan font-size="9.4" dx="0.5" dy="-1.5" stroke="#111" stroke-width="0.12">*</tspan></text>
<text x="644.2" y="660.94" font-size="11.0">0.99<tspan font-size="9.4" dx="0.5" dy="-1.5" stroke="#111" stroke-width="0.12">*</tspan></text>
<text x="6.8" y="680.49" font-size="11.0">-0.75<tspan font-size="9.4" dx="0.5" dy="-1.5" stroke="#111" stroke-width="0.12">*</tspan></text>
<text x="644.2" y="680.49" font-size="11.0">0.97<tspan font-size="9.4" dx="0.5" dy="-1.5" stroke="#111" stroke-width="0.12">*</tspan></text>
<text x="6.8" y="700.04" font-size="11.0">-0.58<tspan font-size="9.4" dx="0.5" dy="-1.5" stroke="#111" stroke-width="0.12">*</tspan></text>
<text x="644.2" y="700.04" font-size="11.0">1.06<tspan font-size="9.4" dx="0.5" dy="-1.5" stroke="#111" stroke-width="0.12">*</tspan></text>
<text x="6.8" y="719.6" font-size="11.0">-0.29<tspan font-size="9.4" dx="0.5" dy="-1.5" stroke="#111" stroke-width="0.12">*</tspan></text>
<text x="644.2" y="719.6" font-size="11.0">1.27<tspan font-size="9.4" dx="0.5" dy="-1.5" stroke="#111" stroke-width="0.12">*</tspan></text>
<text x="6.8" y="739.15" font-size="11.0">-0.52<tspan font-size="9.4" dx="0.5" dy="-1.5" stroke="#111" stroke-width="0.12">*</tspan></text>
<text x="644.2" y="739.15" font-size="11.0">1.75<tspan font-size="9.4" dx="0.5" dy="-1.5" stroke="#111" stroke-width="0.12">*</tspan></text>
<text x="6.8" y="758.7" font-size="11.0">-0.52<tspan font-size="9.4" dx="0.5" dy="-1.5" stroke="#111" stroke-width="0.12">*</tspan></text>
<text x="644.2" y="758.7" font-size="11.0">1.85<tspan font-size="9.4" dx="0.5" dy="-1.5" stroke="#111" stroke-width="0.12">*</tspan></text>
<text x="6.8" y="778.26" font-size="11.0">-0.50<tspan font-size="9.4" dx="0.5" dy="-1.5" stroke="#111" stroke-width="0.12">*</tspan></text>
<text x="644.2" y="778.26" font-size="11.0">1.92<tspan font-size="9.4" dx="0.5" dy="-1.5" stroke="#111" stroke-width="0.12">*</tspan></text>
<text x="6.8" y="797.81" font-size="11.0">-0.16<tspan font-size="9.4" dx="0.5" dy="-1.5" stroke="#111" stroke-width="0.12">*</tspan></text>
<text x="644.2" y="797.81" font-size="11.0">1.92<tspan font-size="9.4" dx="0.5" dy="-1.5" stroke="#111" stroke-width="0.12">*</tspan></text>
<text x="6.8" y="817.36" font-size="11.0">-0.17<tspan font-size="9.4" dx="0.5" dy="-1.5" stroke="#111" stroke-width="0.12">*</tspan></text>
<text x="644.2" y="817.36" font-size="11.0">1.77<tspan font-size="9.4" dx="0.5" dy="-1.5" stroke="#111" stroke-width="0.12">*</tspan></text>
<text x="6.8" y="836.91" font-size="11.0">-0.31<tspan font-size="9.4" dx="0.5" dy="-1.5" stroke="#111" stroke-width="0.12">*</tspan></text>
<text x="644.2" y="836.91" font-size="11.0">1.39<tspan font-size="9.4" dx="0.5" dy="-1.5" stroke="#111" stroke-width="0.12">*</tspan></text>
<text x="6.8" y="856.47" font-size="11.0">-0.91<tspan font-size="9.4" dx="0.5" dy="-1.5" stroke="#111" stroke-width="0.12">*</tspan></text>
<text x="6.8" y="876.02" font-size="11.0">-1.69<tspan font-size="9.4" dx="0.5" dy="-1.5" stroke="#111" stroke-width="0.12">*</tspan></text>
<text x="6.8" y="895.57" font-size="11.0">-1.57<tspan font-size="9.4" dx="0.5" dy="-1.5" stroke="#111" stroke-width="0.12">*</tspan></text>
<path fill="#c6e3e9" d="M244 783.43h77.5V802.99H244ZM257.7 802.99h63.8V822.54H257.7ZM269.6 822.54h51.9V842.09H269.6Z"/>
<path fill="#dadada" d="M191.6 509.69h129.9V529.24H191.6ZM212.2 529.24h109.3V548.8H212.2ZM230.3 548.8h91.2V568.35H230.3ZM236.5 568.35h85V587.9H236.5ZM196.6 587.9h124.9V607.45H196.6ZM212.6 607.45h108.9V627.01H212.6ZM196.4 627.01h125.1V646.56H196.4ZM219.4 646.56h102.1V666.11H219.4ZM209.6 666.11h111.9V685.67H209.6ZM238.8 685.67h82.7V705.22H238.8ZM258.5 705.22h63V724.77H258.5ZM179.3 724.77h142.2V744.33H179.3ZM225.4 744.33h96.1V763.88H225.4ZM245 763.88h76.5V783.43H245ZM270.5 842.09h51V861.64H270.5ZM289.6 861.64h31.9V881.2H289.6ZM271.2 881.2h50.3V900.75H271.2Z"/>
<path fill="#adc8cc" d="M206.3 509.69h115.2V529.24H206.3ZM219.8 529.24h101.7V548.8H219.8ZM236.8 548.8h84.7V568.35H236.8ZM242 568.35h79.5V587.9H242ZM215.5 587.9h106V607.45H215.5ZM223.4 607.45h98.1V627.01H223.4ZM213.5 627.01h108V646.56H213.5ZM229.9 646.56h91.6V666.11H229.9ZM221.4 666.11h100.1V685.67H221.4ZM245.5 685.67h76V705.22H245.5ZM260.3 705.22h61.2V724.77H260.3ZM191.2 724.77h130.3V744.33H191.2ZM231.3 744.33h90.2V763.88H231.3ZM249.4 763.88h72.1V783.43H249.4ZM246.5 783.43h75V802.99H246.5ZM260.1 802.99h61.4V822.54H260.1ZM270.1 822.54h51.4V842.09H270.1ZM273.6 842.09h47.9V861.64H273.6ZM292.4 861.64h29.1V881.2H292.4ZM279.9 881.2h41.6V900.75H279.9Z"/>
<path fill="#c2979a" d="M213.1 509.69h108.4V529.24H213.1ZM225.3 529.24h96.2V548.8H225.3ZM238.1 548.8h83.4V568.35H238.1ZM243.1 568.35h78.4V587.9H243.1ZM225.3 587.9h96.2V607.45H225.3ZM232.3 607.45h89.2V627.01H232.3ZM226.2 627.01h95.3V646.56H226.2ZM236.5 646.56h85V666.11H236.5ZM233.2 666.11h88.3V685.67H233.2ZM252.1 685.67h69.4V705.22H252.1ZM263.2 705.22h58.3V724.77H263.2ZM201 724.77h120.5V744.33H201ZM239.9 744.33h81.6V763.88H239.9ZM256.1 763.88h65.4V783.43H256.1ZM250.5 783.43h71V802.99H250.5ZM263.4 802.99h58.1V822.54H263.4ZM274.5 822.54h47V842.09H274.5ZM283.1 842.09h38.4V861.64H283.1ZM302.4 861.64h19.1V881.2H302.4ZM290.3 881.2h31.2V900.75H290.3Z"/>
<path d="M321.5 529.24H212.2M321.5 548.8H230.3M321.5 568.35H236.5M321.5 587.9H236.5M321.5 607.45H212.6M321.5 627.01H212.6M321.5 646.56H219.4M321.5 666.11H219.4M321.5 685.67H238.8M321.5 705.22H258.5M321.5 724.77H258.5M321.5 744.33H225.4M321.5 763.88H245M321.5 783.43H245M321.5 802.99H257.7M321.5 822.54H269.6M321.5 842.09H270.5M321.5 861.64H289.6M321.5 881.2H289.6" stroke="#fff" stroke-opacity="0.12" stroke-width="0.8" fill="none"/>
<path d="M191.6 509.69 L191.6 529.24 L212.2 529.24 L212.2 548.8 L230.3 548.8 L230.3 568.35 L236.5 568.35 L236.5 587.9 L196.6 587.9 L196.6 607.45 L212.6 607.45 L212.6 627.01 L196.4 627.01 L196.4 646.56 L219.4 646.56 L219.4 666.11 L209.6 666.11 L209.6 685.67 L238.8 685.67 L238.8 705.22 L258.5 705.22 L258.5 724.77 L179.3 724.77 L179.3 744.33 L225.4 744.33 L225.4 763.88 L245 763.88 L245 783.43 L246.5 783.43 L246.5 802.99 L260.1 802.99 L260.1 822.54 L270.1 822.54 L270.1 842.09 L270.5 842.09 L270.5 861.64 L289.6 861.64 L289.6 881.2 L271.2 881.2 L271.2 900.75" fill="none" stroke="#a3a3a3" stroke-width="1.0"/>
<path d="M206.3 509.69 L206.3 529.24 L219.8 529.24 L219.8 548.8 L236.8 548.8 L236.8 568.35 L242 568.35 L242 587.9 L215.5 587.9 L215.5 607.45 L223.4 607.45 L223.4 627.01 L213.5 627.01 L213.5 646.56 L229.9 646.56 L229.9 666.11 L221.4 666.11 L221.4 685.67 L245.5 685.67 L245.5 705.22 L260.3 705.22 L260.3 724.77 L191.2 724.77 L191.2 744.33 L231.3 744.33 L231.3 763.88 L249.4 763.88 L249.4 783.43 L244 783.43 L244 802.99 L257.7 802.99 L257.7 822.54 L269.6 822.54 L269.6 842.09 L273.6 842.09 L273.6 861.64 L292.4 861.64 L292.4 881.2 L279.9 881.2 L279.9 900.75" fill="none" stroke="#3593aa" stroke-width="1.0"/>
<path d="M213.1 509.69 L213.1 529.24 L225.3 529.24 L225.3 548.8 L238.1 548.8 L238.1 568.35 L243.1 568.35 L243.1 587.9 L225.3 587.9 L225.3 607.45 L232.3 607.45 L232.3 627.01 L226.2 627.01 L226.2 646.56 L236.5 646.56 L236.5 666.11 L233.2 666.11 L233.2 685.67 L252.1 685.67 L252.1 705.22 L263.2 705.22 L263.2 724.77 L201 724.77 L201 744.33 L239.9 744.33 L239.9 763.88 L256.1 763.88 L256.1 783.43 L250.5 783.43 L250.5 802.99 L263.4 802.99 L263.4 822.54 L274.5 822.54 L274.5 842.09 L283.1 842.09 L283.1 861.64 L302.4 861.64 L302.4 881.2 L290.3 881.2 L290.3 900.75" fill="none" stroke="#c5344b" stroke-width="1.0"/>
<path fill="#f8bdbf" d="M350.5 509.69h161.1V529.24H350.5ZM350.5 529.24h149.9V548.8H350.5ZM350.5 548.8h141.8V568.35H350.5ZM350.5 568.35h144.1V587.9H350.5ZM350.5 587.9h140.2V607.45H350.5ZM350.5 607.45h124.7V627.01H350.5ZM350.5 627.01h110.9V646.56H350.5ZM350.5 646.56h91.9V666.11H350.5ZM350.5 666.11h64.5V685.67H350.5ZM350.5 685.67h45.5V705.22H350.5ZM350.5 705.22h30.3V724.77H350.5ZM350.5 724.77h18.9V744.33H350.5ZM350.5 744.33h11.9V763.88H350.5ZM350.5 763.88h8.2V783.43H350.5ZM350.5 783.43h5.1V802.99H350.5ZM350.5 802.99h3V822.54H350.5ZM350.5 822.54h1.5V842.09H350.5Z"/>
<path fill="#d4a9ab" d="M350.5 509.69h159.9V529.24H350.5ZM350.5 529.24h145.5V548.8H350.5ZM350.5 548.8h133.2V568.35H350.5ZM350.5 568.35h126.9V587.9H350.5ZM350.5 587.9h124.5V607.45H350.5ZM350.5 607.45h114.6V627.01H350.5ZM350.5 627.01h98V646.56H350.5ZM350.5 646.56h79.8V666.11H350.5ZM350.5 666.11h53.7V685.67H350.5ZM350.5 685.67h36.7V705.22H350.5ZM350.5 705.22h23.3V724.77H350.5ZM350.5 724.77h13.4V744.33H350.5ZM350.5 744.33h9.3V763.88H350.5ZM350.5 763.88h6.1V783.43H350.5ZM350.5 783.43h4.1V802.99H350.5ZM350.5 802.99h2V822.54H350.5ZM350.5 822.54h1V842.09H350.5Z"/>
<path fill="#c2979a" d="M350.5 509.69h138.3V529.24H350.5ZM350.5 529.24h122.2V548.8H350.5ZM350.5 548.8h111.2V568.35H350.5ZM350.5 568.35h107.8V587.9H350.5ZM350.5 587.9h105.6V607.45H350.5ZM350.5 607.45h97.1V627.01H350.5ZM350.5 627.01h83.3V646.56H350.5ZM350.5 646.56h68V666.11H350.5ZM350.5 666.11h48.1V685.67H350.5ZM350.5 685.67h33.2V705.22H350.5ZM350.5 705.22h21V724.77H350.5ZM350.5 724.77h11.7V744.33H350.5ZM350.5 744.33h8.2V763.88H350.5ZM350.5 763.88h5.4V783.43H350.5ZM350.5 783.43h3.5V802.99H350.5ZM350.5 802.99h1.8V822.54H350.5ZM350.5 822.54h0.8V842.09H350.5Z"/>
<path d="M350.5 529.24H500.4M350.5 548.8H492.3M350.5 568.35H492.3M350.5 587.9H490.7M350.5 607.45H475.2M350.5 627.01H461.4M350.5 646.56H442.4M350.5 666.11H415M350.5 685.67H396M350.5 705.22H380.8M350.5 724.77H369.4M350.5 744.33H362.4M350.5 763.88H358.7M350.5 783.43H355.6M350.5 802.99H353.5M350.5 822.54H352" stroke="#fff" stroke-opacity="0.12" stroke-width="0.8" fill="none"/>
<path d="M488.8 509.69 L488.8 529.24 L472.7 529.24 L472.7 548.8 L461.7 548.8 L461.7 568.35 L458.3 568.35 L458.3 587.9 L456.1 587.9 L456.1 607.45 L447.6 607.45 L447.6 627.01 L433.8 627.01 L433.8 646.56 L418.5 646.56 L418.5 666.11 L398.6 666.11 L398.6 685.67 L383.7 685.67 L383.7 705.22 L371.5 705.22 L371.5 724.77 L362.2 724.77 L362.2 744.33 L358.7 744.33 L358.7 763.88 L355.9 763.88 L355.9 783.43 L354 783.43 L354 802.99 L352.3 802.99 L352.3 822.54 L351.3 822.54 L351.3 842.09 L350.5 842.09 L350.5 861.64 L350.5 861.64 L350.5 881.2 L350.5 881.2 L350.5 900.75" fill="none" stroke="#a3a3a3" stroke-width="1.0"/>
<path d="M510.4 509.69 L510.4 529.24 L496 529.24 L496 548.8 L483.7 548.8 L483.7 568.35 L477.4 568.35 L477.4 587.9 L475 587.9 L475 607.45 L465.1 607.45 L465.1 627.01 L448.5 627.01 L448.5 646.56 L430.3 646.56 L430.3 666.11 L404.2 666.11 L404.2 685.67 L387.2 685.67 L387.2 705.22 L373.8 705.22 L373.8 724.77 L363.9 724.77 L363.9 744.33 L359.8 744.33 L359.8 763.88 L356.6 763.88 L356.6 783.43 L354.6 783.43 L354.6 802.99 L352.5 802.99 L352.5 822.54 L351.5 822.54 L351.5 842.09 L350.5 842.09 L350.5 861.64 L350.5 861.64 L350.5 881.2 L350.5 881.2 L350.5 900.75" fill="none" stroke="#3593aa" stroke-width="1.0"/>
<path d="M511.6 509.69 L511.6 529.24 L500.4 529.24 L500.4 548.8 L492.3 548.8 L492.3 568.35 L494.6 568.35 L494.6 587.9 L490.7 587.9 L490.7 607.45 L475.2 607.45 L475.2 627.01 L461.4 627.01 L461.4 646.56 L442.4 646.56 L442.4 666.11 L415 666.11 L415 685.67 L396 685.67 L396 705.22 L380.8 705.22 L380.8 724.77 L369.4 724.77 L369.4 744.33 L362.4 744.33 L362.4 763.88 L358.7 763.88 L358.7 783.43 L355.6 783.43 L355.6 802.99 L353.5 802.99 L353.5 822.54 L352 822.54 L352 842.09 L350.5 842.09 L350.5 861.64 L350.5 861.64 L350.5 881.2 L350.5 881.2 L350.5 900.75" fill="none" stroke="#c5344b" stroke-width="1.0"/>
<line x1="163.5" y1="509.69" x2="163.5" y2="900.75" stroke="#8a8a8a" stroke-width="0.9" stroke-dasharray="1 3.1"/>
<line x1="521.4" y1="509.69" x2="521.4" y2="900.75" stroke="#8a8a8a" stroke-width="0.9" stroke-dasharray="1 3.1"/>
<path d="M163.2 509.69 L163.2 529.24 L162.5 529.24 L162.5 548.8 L159.6 548.8 L159.6 568.35 L155.1 568.35 L155.1 587.9 L150 587.9 L150 607.45 L146.4 607.45 L146.4 627.01 L139.1 627.01 L139.1 646.56 L134.4 646.56 L134.4 666.11 L129.7 666.11 L129.7 685.67 L125.6 685.67 L125.6 705.22 L122.5 705.22 L122.5 724.77 L112.8 724.77 L112.8 744.33 L100.9 744.33 L100.9 763.88 L94.8 763.88 L94.8 783.43 L84 783.43 L84 802.99 L75.5 802.99 L75.5 822.54 L71.5 822.54 L71.5 842.09 L69.1 842.09 L69.1 861.64 L61.3 861.64 L61.3 881.2 L54.9 881.2 L54.9 900.75" fill="none" stroke="#a9a9a9" stroke-width="1.25"/>
<path d="M163 509.69 L163 529.24 L162.1 529.24 L162.1 548.8 L159.1 548.8 L159.1 568.35 L153.8 568.35 L153.8 587.9 L147.9 587.9 L147.9 607.45 L142.8 607.45 L142.8 627.01 L137.6 627.01 L137.6 646.56 L134.2 646.56 L134.2 666.11 L126.8 666.11 L126.8 685.67 L117.2 685.67 L117.2 705.22 L111.7 705.22 L111.7 724.77 L101.7 724.77 L101.7 744.33 L93.9 744.33 L93.9 763.88 L90.1 763.88 L90.1 783.43 L88.6 783.43 L88.6 802.99 L81.4 802.99 L81.4 822.54 L73.6 822.54 L73.6 842.09 L76.7 842.09 L76.7 861.64 L77.9 861.64 L77.9 881.2 L74.7 881.2 L74.7 900.75" fill="none" stroke="#2b98b2" stroke-width="1.5"/>
<path d="M162.6 509.69 L162.6 529.24 L160.9 529.24 L160.9 548.8 L156.9 548.8 L156.9 568.35 L151 568.35 L151 587.9 L146 587.9 L146 607.45 L136.7 607.45 L136.7 627.01 L128.5 627.01 L128.5 646.56 L123.5 646.56 L123.5 666.11 L114.5 666.11 L114.5 685.67 L109.3 685.67 L109.3 705.22 L106.1 705.22 L106.1 724.77 L103.2 724.77 L103.2 744.33 L96 744.33 L96 763.88 L91 763.88 L91 783.43 L92.5 783.43 L92.5 802.99 L92 802.99 L92 822.54 L90.2 822.54 L90.2 842.09 L84.9 842.09 L84.9 861.64 L82.6 861.64 L82.6 881.2 L86.1 881.2 L86.1 900.75" fill="none" stroke="#bc1e41" stroke-width="1.5"/>
<path d="M521.68 509.69 L521.68 529.24 L522.34 529.24 L522.34 548.8 L525.08 548.8 L525.08 568.35 L529.32 568.35 L529.32 587.9 L534.13 587.9 L534.13 607.45 L537.52 607.45 L537.52 627.01 L544.4 627.01 L544.4 646.56 L548.83 646.56 L548.83 666.11 L553.26 666.11 L553.26 685.67 L557.12 685.67 L557.12 705.22 L560.04 705.22 L560.04 724.77 L569.19 724.77 L569.19 744.33 L580.4 744.33 L580.4 763.88 L586.15 763.88 L586.15 783.43 L596.33 783.43 L596.33 802.99 L604.34 802.99 L604.34 822.54 L608.11 822.54 L608.11 842.09 L610.37 842.09 L610.37 861.64 L617.72 861.64 L617.72 881.2 L623.76 881.2 L623.76 900.75" fill="none" stroke="#a9a9a9" stroke-width="1.25"/>
<path d="M521.87 509.69 L521.87 529.24 L522.72 529.24 L522.72 548.8 L525.55 548.8 L525.55 568.35 L530.55 568.35 L530.55 587.9 L536.1 587.9 L536.1 607.45 L540.91 607.45 L540.91 627.01 L545.81 627.01 L545.81 646.56 L549.02 646.56 L549.02 666.11 L555.99 666.11 L555.99 685.67 L565.04 685.67 L565.04 705.22 L570.23 705.22 L570.23 724.77 L579.65 724.77 L579.65 744.33 L587 744.33 L587 763.88 L590.58 763.88 L590.58 783.43 L592 783.43 L592 802.99 L598.78 802.99 L598.78 822.54 L606.13 822.54 L606.13 842.09 L603.21 842.09 L603.21 861.64 L602.08 861.64 L602.08 881.2 L605.1 881.2 L605.1 900.75" fill="none" stroke="#2b98b2" stroke-width="1.5"/>
<path d="M522.25 509.69 L522.25 529.24 L523.85 529.24 L523.85 548.8 L527.62 548.8 L527.62 568.35 L533.18 568.35 L533.18 587.9 L537.9 587.9 L537.9 607.45 L546.66 607.45 L546.66 627.01 L554.39 627.01 L554.39 646.56 L559.1 646.56 L559.1 666.11 L567.58 666.11 L567.58 685.67 L572.49 685.67 L572.49 705.22 L575.5 705.22 L575.5 724.77 L578.24 724.77 L578.24 744.33 L585.02 744.33 L585.02 763.88 L589.74 763.88 L589.74 783.43 L588.32 783.43 L588.32 802.99 L588.79 802.99 L588.79 822.54 L590.48 822.54 L590.48 842.09 L595.48 842.09 L595.48 861.64 L597.65 861.64 L597.65 881.2 L594.35 881.2 L594.35 900.75" fill="none" stroke="#bc1e41" stroke-width="1.5"/>
<g stroke="#262626" stroke-width="1.05"><line x1="1.3" y1="900.75" x2="167.9" y2="900.75"/><line x1="172.3" y1="900.75" x2="321.5" y2="900.75"/><line x1="345.5" y1="900.75" x2="511.9" y2="900.75"/><line x1="517.2" y1="900.75" x2="683.6" y2="900.75"/><line x1="321.5" y1="509.69" x2="321.5" y2="906.05"/><line x1="350.5" y1="509.69" x2="350.5" y2="906.05"/><line x1="321.5" y1="900.75" x2="326.6" y2="900.75"/><line x1="345" y1="900.75" x2="350.5" y2="900.75"/><line x1="321.5" y1="881.2" x2="326.6" y2="881.2"/><line x1="345" y1="881.2" x2="350.5" y2="881.2"/><line x1="321.5" y1="861.64" x2="326.6" y2="861.64"/><line x1="345" y1="861.64" x2="350.5" y2="861.64"/><line x1="321.5" y1="842.09" x2="326.6" y2="842.09"/><line x1="345" y1="842.09" x2="350.5" y2="842.09"/><line x1="321.5" y1="822.54" x2="326.6" y2="822.54"/><line x1="345" y1="822.54" x2="350.5" y2="822.54"/><line x1="321.5" y1="802.99" x2="326.6" y2="802.99"/><line x1="345" y1="802.99" x2="350.5" y2="802.99"/><line x1="321.5" y1="783.43" x2="326.6" y2="783.43"/><line x1="345" y1="783.43" x2="350.5" y2="783.43"/><line x1="321.5" y1="763.88" x2="326.6" y2="763.88"/><line x1="345" y1="763.88" x2="350.5" y2="763.88"/><line x1="321.5" y1="744.33" x2="326.6" y2="744.33"/><line x1="345" y1="744.33" x2="350.5" y2="744.33"/><line x1="321.5" y1="724.77" x2="326.6" y2="724.77"/><line x1="345" y1="724.77" x2="350.5" y2="724.77"/><line x1="321.5" y1="705.22" x2="326.6" y2="705.22"/><line x1="345" y1="705.22" x2="350.5" y2="705.22"/><line x1="321.5" y1="685.67" x2="326.6" y2="685.67"/><line x1="345" y1="685.67" x2="350.5" y2="685.67"/><line x1="321.5" y1="666.11" x2="326.6" y2="666.11"/><line x1="345" y1="666.11" x2="350.5" y2="666.11"/><line x1="321.5" y1="646.56" x2="326.6" y2="646.56"/><line x1="345" y1="646.56" x2="350.5" y2="646.56"/><line x1="321.5" y1="627.01" x2="326.6" y2="627.01"/><line x1="345" y1="627.01" x2="350.5" y2="627.01"/><line x1="321.5" y1="607.45" x2="326.6" y2="607.45"/><line x1="345" y1="607.45" x2="350.5" y2="607.45"/><line x1="321.5" y1="587.9" x2="326.6" y2="587.9"/><line x1="345" y1="587.9" x2="350.5" y2="587.9"/><line x1="321.5" y1="568.35" x2="326.6" y2="568.35"/><line x1="345" y1="568.35" x2="350.5" y2="568.35"/><line x1="321.5" y1="548.8" x2="326.6" y2="548.8"/><line x1="345" y1="548.8" x2="350.5" y2="548.8"/><line x1="321.5" y1="529.24" x2="326.6" y2="529.24"/><line x1="345" y1="529.24" x2="350.5" y2="529.24"/><line x1="321.5" y1="509.69" x2="326.6" y2="509.69"/><line x1="345" y1="509.69" x2="350.5" y2="509.69"/><line x1="48.6" y1="900.75" x2="48.6" y2="906.05"/><line x1="77.4" y1="900.75" x2="77.4" y2="906.05"/><line x1="106.2" y1="900.75" x2="106.2" y2="906.05"/><line x1="134.6" y1="900.75" x2="134.6" y2="906.05"/><line x1="163.5" y1="900.75" x2="163.5" y2="906.05"/><line x1="521.4" y1="900.75" x2="521.4" y2="906.05"/><line x1="548.5" y1="900.75" x2="548.5" y2="906.05"/><line x1="575.5" y1="900.75" x2="575.5" y2="906.05"/><line x1="602.4" y1="900.75" x2="602.4" y2="906.05"/><line x1="629.6" y1="900.75" x2="629.6" y2="906.05"/><line x1="173.1" y1="900.75" x2="173.1" y2="906.05"/><line x1="202.9" y1="900.75" x2="202.9" y2="906.05"/><line x1="232.5" y1="900.75" x2="232.5" y2="906.05"/><line x1="262.1" y1="900.75" x2="262.1" y2="906.05"/><line x1="291.5" y1="900.75" x2="291.5" y2="906.05"/><line x1="321.5" y1="900.75" x2="321.5" y2="906.05"/><line x1="350.5" y1="900.75" x2="350.5" y2="906.05"/><line x1="380.9" y1="900.75" x2="380.9" y2="906.05"/><line x1="411.5" y1="900.75" x2="411.5" y2="906.05"/><line x1="441.8" y1="900.75" x2="441.8" y2="906.05"/><line x1="472.3" y1="900.75" x2="472.3" y2="906.05"/><line x1="502.6" y1="900.75" x2="502.6" y2="906.05"/></g>
<text x="329.6" y="905.2" font-size="11.0">0</text>
<text x="329.6" y="885.65" font-size="11.0">5</text>
<text x="329.6" y="866.09" font-size="11.0">10</text>
<text x="329.6" y="846.54" font-size="11.0">15</text>
<text x="329.6" y="826.99" font-size="11.0">20</text>
<text x="329.6" y="807.44" font-size="11.0">25</text>
<text x="329.6" y="787.88" font-size="11.0">30</text>
<text x="329.6" y="768.33" font-size="11.0">35</text>
<text x="329.6" y="748.78" font-size="11.0">40</text>
<text x="329.6" y="729.22" font-size="11.0">45</text>
<text x="329.6" y="709.67" font-size="11.0">50</text>
<text x="329.6" y="690.12" font-size="11.0">55</text>
<text x="329.6" y="670.56" font-size="11.0">60</text>
<text x="329.6" y="651.01" font-size="11.0">65</text>
<text x="329.6" y="631.46" font-size="11.0">70</text>
<text x="329.6" y="611.9" font-size="11.0">75</text>
<text x="329.6" y="592.35" font-size="11.0">80</text>
<text x="329.6" y="572.8" font-size="11.0">85</text>
<text x="329.6" y="553.25" font-size="11.0">90</text>
<text x="329.6" y="533.69" font-size="11.0">95</text>
<text x="329.6" y="514.14" font-size="11.0">95+</text>
<text x="47.5" y="919.6" text-anchor="middle" font-size="11.0">12</text>
<text x="76.4" y="919.6" text-anchor="middle" font-size="11.0">9</text>
<text x="105.1" y="919.6" text-anchor="middle" font-size="11.0">6</text>
<text x="133.6" y="919.6" text-anchor="middle" font-size="11.0">3</text>
<text x="160.7" y="919.6" text-anchor="middle" font-size="11.0">0</text>
<text x="519.9" y="919.6" text-anchor="middle" font-size="11.0">0</text>
<text x="547.3" y="919.6" text-anchor="middle" font-size="11.0">3</text>
<text x="574.3" y="919.6" text-anchor="middle" font-size="11.0">6</text>
<text x="600.7" y="919.6" text-anchor="middle" font-size="11.0">9</text>
<text x="628.3" y="919.6" text-anchor="middle" font-size="11.0">12</text>
<text x="176.6" y="919.6" text-anchor="middle" font-size="11.0">100</text>
<text x="200.9" y="919.6" text-anchor="middle" font-size="11.0">80</text>
<text x="230.1" y="919.6" text-anchor="middle" font-size="11.0">60</text>
<text x="260.1" y="919.6" text-anchor="middle" font-size="11.0">40</text>
<text x="289.9" y="919.6" text-anchor="middle" font-size="11.0">20</text>
<text x="320.5" y="919.6" text-anchor="middle" font-size="11.0">0</text>
<text x="349.4" y="919.6" text-anchor="middle" font-size="11.0">0</text>
<text x="377.4" y="919.6" text-anchor="middle" font-size="11.0">1000</text>
<text x="407.7" y="919.6" text-anchor="middle" font-size="11.0">2000</text>
<text x="437.8" y="919.6" text-anchor="middle" font-size="11.0">3000</text>
<text x="468.5" y="919.6" text-anchor="middle" font-size="11.0">4000</text>
<text x="499.1" y="919.6" text-anchor="middle" font-size="11.0">5000</text>
<text x="41.4" y="934.2" font-weight="bold" font-size="11.0">Proportion (%)</text>
<text x="342" y="934.2" text-anchor="middle" font-weight="bold" font-size="11.0">DALY rate (per 100 000)</text>
<text x="556.7" y="934.2" font-weight="bold" font-size="11.0">Proportion (%)</text>
<rect x="201.6" y="951.9" width="10.2" height="11.4" fill="#d9d9d9" stroke="#9c9c9c" stroke-width="1.15"/>
<text x="220.5" y="962.8" font-size="11.0">1990</text>
<rect x="248.6" y="951.9" width="10.2" height="11.4" fill="#c6e1e6" stroke="#2a8ba5" stroke-width="1.15"/>
<text x="267" y="962.8" font-size="11.0">2005</text>
<rect x="295.7" y="951.9" width="10.2" height="11.4" fill="#f6bec0" stroke="#c22c42" stroke-width="1.15"/>
<text x="313.9" y="962.8" font-size="11.0">2021</text>
<line x1="349.1" y1="957.6" x2="358.9" y2="957.6" stroke="#b0b0b0" stroke-width="1"/>
<text x="368" y="962.8" font-size="11.0">1990</text>
<line x1="396.1" y1="957.6" x2="406.0" y2="957.6" stroke="#62b4c6" stroke-width="1"/>
<text x="414.5" y="962.8" font-size="11.0">2005</text>
<line x1="442.9" y1="957.6" x2="452.9" y2="957.6" stroke="#d0626f" stroke-width="1"/>
<text x="461.1" y="962.8" font-size="11.0">2021</text>
</svg>
</body></html>
